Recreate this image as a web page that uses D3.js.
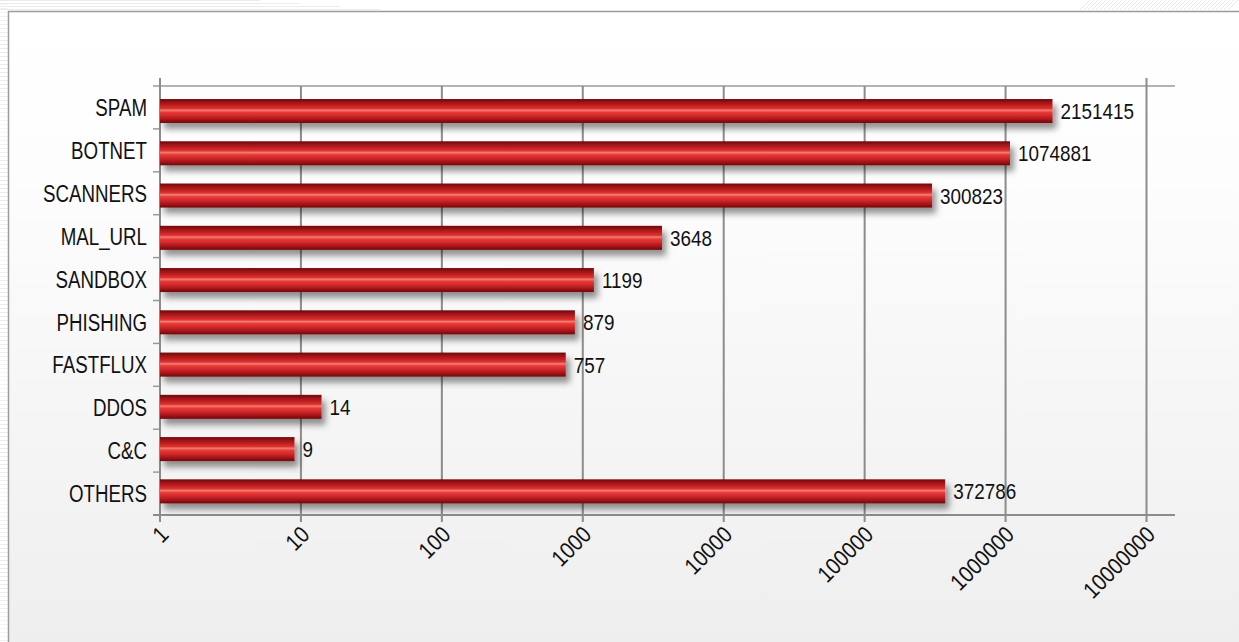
<!DOCTYPE html>
<html>
<head>
<meta charset="utf-8">
<script src="https://cdn.jsdelivr.net/npm/d3@7"></script>
<style>
  html, body { margin: 0; padding: 0; background: #ffffff; }
  svg { display: block; }
  .lbl { font-family: "Liberation Sans", Arial, "DejaVu Sans", sans-serif; fill: #111; }
</style>
</head>
<body>
<svg id="chart" width="1239" height="642"></svg>
<script>
// Threat categories and their event counts
const categories = ["SPAM", "BOTNET", "SCANNERS", "MAL_URL", "SANDBOX", "PHISHING", "FASTFLUX", "DDOS", "C&C", "OTHERS"];
const counts = [2151415, 1074881, 300823, 3648, 1199, 879, 757, 14, 9, 372786];
const tickValues = [1, 10, 100, 1000, 10000, 100000, 1000000, 10000000];
const tickLabels = ["1", "10", "100", "1000", "10000", "100000", "1000000", "10000000"];

const svg = d3.select("#chart");
const W = 1239, H = 642;
const defs = svg.append("defs");

// panel background gradient
const bg = defs.append("linearGradient").attr("id", "panelBg").attr("x1", 0).attr("y1", 0).attr("x2", 0).attr("y2", 1);
bg.append("stop").attr("offset", "0%").attr("stop-color", "#ffffff");
bg.append("stop").attr("offset", "25%").attr("stop-color", "#fdfdfd");
bg.append("stop").attr("offset", "100%").attr("stop-color", "#eeeeee");

// glossy red bar gradient
const bar = defs.append("linearGradient").attr("id", "barFill").attr("x1", 0).attr("y1", 0).attr("x2", 0).attr("y2", 1);
[["0%", "#6c0509"], ["10%", "#921014"], ["28%", "#c42222"], ["40%", "#de3434"], ["46%", "#f27e76"], ["51%", "#f05c54"], ["56%", "#e63836"], ["70%", "#d0282a"], ["86%", "#a31419"], ["100%", "#70060a"]]
  .forEach(([o, c]) => bar.append("stop").attr("offset", o).attr("stop-color", c));

// soft drop shadow under the bars
const shadow = defs.append("filter").attr("id", "barShadow").attr("x", "-5%").attr("y", "-40%").attr("width", "115%").attr("height", "200%");
shadow.append("feDropShadow").attr("dx", 4).attr("dy", 6).attr("stdDeviation", 3)
  .attr("flood-color", "#000").attr("flood-opacity", 0.42);

// faint decorative texture outside the panel
const deco = svg.append("g").attr("stroke", "#e4e4e4").attr("stroke-width", 1).attr("fill", "none");
d3.range(0, H, 4).forEach(y => {
  deco.append("line").attr("x1", 0).attr("x2", 8).attr("y1", y + 0.5).attr("y2", y + 0.5)
    .attr("stroke-opacity", 0.35 + 0.4 * Math.abs(Math.sin(y / 40)));
});
d3.range(0, 11, 3).forEach((y, i) => {
  deco.append("line").attr("x1", 0).attr("x2", 260 + i * 40).attr("y1", y + 0.5).attr("y2", y + 0.5).attr("stroke-opacity", 0.7);
});
d3.range(1090, 1239, 4).forEach(x => {
  deco.append("line").attr("x1", x).attr("x2", x - 10).attr("y1", 0).attr("y2", 10).attr("stroke-opacity", 0.8);
});

// panel
svg.append("rect").attr("x", 8.5).attr("y", 11.5).attr("width", W).attr("height", H)
  .attr("fill", "url(#panelBg)").attr("stroke", "#9c9c9c").attr("stroke-width", 1.5);

// scales
const x = d3.scaleLog().domain([1, 10000000]).range([160, 1146.5]);
const yGrid = d3.scaleBand().domain(categories).range([86, 515]);
const yBar = d3.scaleBand().domain(categories).range([89.9, 512.5]).paddingInner(0.432).paddingOuter(0.216);

const grid = svg.append("g").attr("stroke", "#8c8c8c").attr("fill", "none");

// top frame line
grid.append("line").attr("x1", 153).attr("x2", 1175).attr("y1", 86).attr("y2", 86).attr("stroke", "#9a9a9a").attr("stroke-width", 1.5);

// vertical decade gridlines
grid.selectAll(".vg").data(tickValues).join("line")
  .attr("x1", d => x(d)).attr("x2", d => x(d))
  .attr("y1", (d, i) => (i === 0 || i === tickValues.length - 1) ? 78 : 86)
  .attr("y2", 522)
  .attr("stroke-width", 2);

// category separator ticks on the left
grid.selectAll(".ht").data(categories.slice(1)).join("line")
  .attr("x1", 153).attr("x2", 160)
  .attr("y1", d => yGrid(d)).attr("y2", d => yGrid(d))
  .attr("stroke-width", 1.5).attr("stroke", "#9a9a9a");

// bars
svg.append("g").selectAll("rect").data(categories).join("rect")
  .attr("x", x(1))
  .attr("y", d => yBar(d))
  .attr("width", (d, i) => x(counts[i]) - x(1))
  .attr("height", yBar.bandwidth())
  .attr("fill", "url(#barFill)")
  .attr("filter", "url(#barShadow)");

// bottom axis line and left edge drawn over the bar shadows
grid.append("line").attr("x1", 153).attr("x2", 1175).attr("y1", 515).attr("y2", 515).attr("stroke-width", 2);
grid.append("line").attr("x1", x(1)).attr("x2", x(1)).attr("y1", 78).attr("y2", 522).attr("stroke-width", 2);

// condensed look: horizontally squeezed sans text
const NARROW = 0.78;

// category labels
svg.append("g").selectAll("text").data(categories).join("text")
  .attr("class", "lbl")
  .attr("transform", d => `translate(147,${yGrid(d) + yGrid.bandwidth() / 2}) scale(${NARROW},1)`)
  .attr("dy", "0.36em")
  .attr("text-anchor", "end")
  .attr("font-size", 24)
  .text(d => d);

// value labels
svg.append("g").selectAll("text").data(categories).join("text")
  .attr("class", "lbl")
  .attr("transform", (d, i) => `translate(${x(counts[i]) + 8},${yBar(d) + yBar.bandwidth() / 2}) scale(0.84,1)`)
  .attr("dy", "0.36em")
  .attr("font-size", 22.5)
  .text((d, i) => counts[i]);

// rotated axis tick labels
svg.append("g").selectAll("text").data(tickValues).join("text")
  .attr("class", "lbl")
  .attr("font-size", 23)
  .attr("text-anchor", "end")
  .attr("transform", d => `translate(${x(d) + 10},${536}) rotate(-45) scale(0.88,1)`)
  .text((d, i) => tickLabels[i]);
</script>
</body>
</html>
